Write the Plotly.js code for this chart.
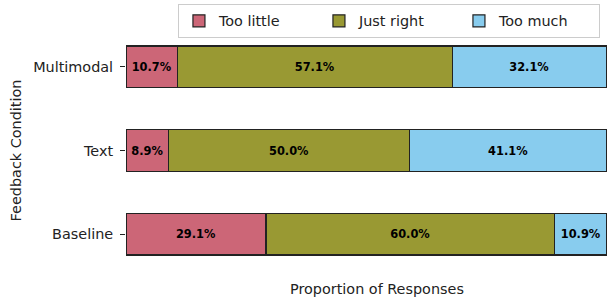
<!DOCTYPE html>
<html><head><meta charset="utf-8">
<script src="https://cdn.plot.ly/plotly-3.0.1.min.js"></script>
<style>body{margin:0;padding:0;background:#fff}#chart{width:607px;height:299px}</style>
</head><body><div id="chart"></div>
<script>
const categories = ["Baseline", "Text", "Multimodal"];
const tooLittle = [29.1, 8.9, 10.7];
const justRight = [60.0, 50.0, 57.1];
const tooMuch = [10.9, 41.1, 32.1];
const seriesNames = ["Too little", "Just right", "Too much"];
const colors = ["#CC6677", "#999933", "#88CCEE"];

const font = "DejaVu Sans, sans-serif";
const mk = (vals, i) => ({
  type: "bar", orientation: "h", name: seriesNames[i],
  y: categories, x: vals, width: 0.5,
  marker: {color: colors[i], line: {color: "#222", width: 1.2}},
  texttemplate: "%{x:.1f}%", textposition: "inside", insidetextanchor: "middle",
  textangle: 0, constraintext: "none",
  textfont: {family: font, size: 11.4, color: "#000", weight: "bold"},
  hoverinfo: "none"
});
const data = [mk(tooLittle, 0), mk(justRight, 1), mk(tooMuch, 2)];

const layout = {
  width: 607, height: 299,
  margin: {l: 126, r: 0, t: 25, b: 23, pad: 0, autoexpand: false},
  barmode: "stack", bargap: 0.5,
  paper_bgcolor: "#fff", plot_bgcolor: "#fff",
  font: {family: font, size: 14.4, color: "#222"},
  showlegend: true,
  legend: {orientation: "h", x: 0.108, xanchor: "left", y: 1.0837, yanchor: "top",
    bordercolor: "#ccc", borderwidth: 1, font: {size: 14.4, color: "#222"},
    traceorder: "normal", entrywidth: 95, entrywidthmode: "pixels"},
  xaxis: {range: [0, 100], showticklabels: false, ticks: "", showgrid: false,
    zeroline: false, showline: false, automargin: false},
  yaxis: {range: [-0.5, 2.5], showgrid: false, zeroline: false, showline: false,
    ticks: "outside", ticklen: 5, tickcolor: "#222", automargin: false,
    ticklabelstandoff: 4,
    tickfont: {size: 14.4, color: "#222"},
    title: {text: "Feedback Condition", font: {size: 14.4, color: "#222"}, standoff: 8}},
  annotations: [{text: "Proportion of Responses", xref: "paper", yref: "paper",
    x: 0.522, y: -(289 - 276) / 251, xanchor: "center", yanchor: "middle",
    showarrow: false, font: {size: 14.4, color: "#222"}}]
};
Plotly.newPlot("chart", data, layout, {staticPlot: true, displayModeBar: false});
</script></body></html>
